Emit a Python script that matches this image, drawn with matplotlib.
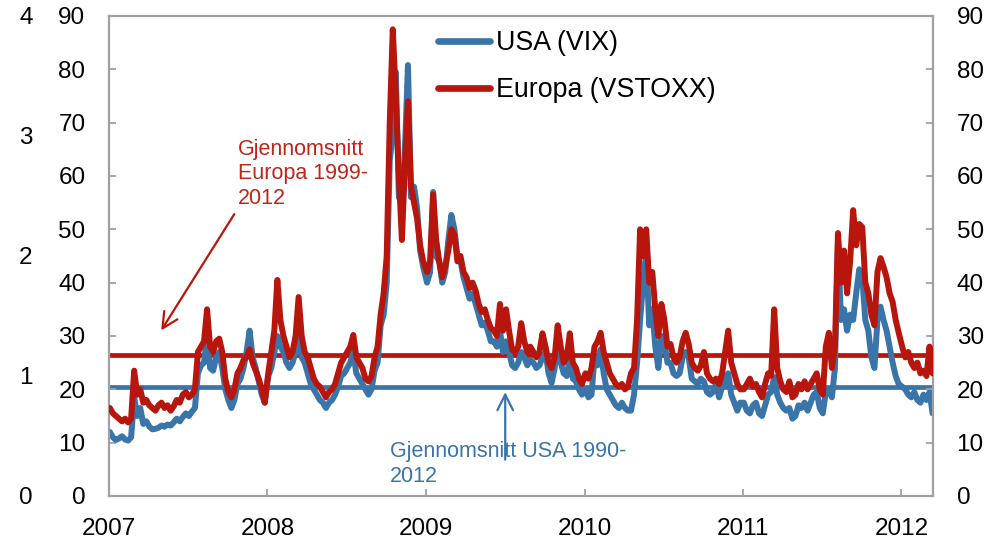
import numpy as np
import pandas as pd
import matplotlib
matplotlib.use("Agg")
import matplotlib.pyplot as plt
import matplotlib.dates as mdates

plt.rcParams['font.family'] = ['Liberation Sans', 'DejaVu Sans']

# ---------------- data (weekly readings from the chart) ----------------
years = [2007, 2008, 2009, 2010, 2011, 2012]

vix_2007 = [12.0, 11.0, 10.5, 10.8, 11.2, 10.6, 10.4, 11.0, 18.5, 15.0,
            16.5, 13.5, 14.0, 13.0, 12.5, 12.6, 12.8, 13.2, 13.0, 13.4,
            13.2, 13.8, 14.5, 14.0, 14.8, 15.5, 15.0, 15.8, 16.5, 23.0,
            24.5, 25.0, 30.0, 24.0, 23.5, 26.0, 27.0, 24.0, 20.0, 18.0,
            16.5, 18.0, 21.0, 22.0, 24.0, 27.0, 31.0, 26.0, 24.0, 21.5,
            19.0, 17.5]
vs_2007 = [16.5, 15.5, 15.0, 14.5, 14.0, 14.5, 13.8, 14.5, 23.5, 19.0,
           20.0, 17.5, 18.0, 17.0, 16.5, 16.0, 17.0, 17.5, 16.5, 17.0,
           16.0, 16.8, 18.0, 17.5, 19.0, 19.5, 18.5, 19.0, 20.0, 27.0,
           28.0, 29.0, 35.0, 28.0, 27.0, 29.0, 29.5, 27.0, 22.0, 19.5,
           18.5, 20.0, 23.0, 24.0, 25.5, 26.0, 27.5, 25.0, 23.5, 22.0,
           20.0, 17.5]

vix_2008 = [22.5, 24.0, 27.0, 30.0, 28.0, 27.0, 25.0, 24.0, 25.0, 27.0,
            32.0, 26.0, 25.0, 23.0, 21.0, 20.0, 19.0, 18.0, 17.5, 16.5,
            17.5, 18.0, 19.0, 20.5, 22.5, 23.0, 24.0, 25.0, 27.0, 23.0,
            22.0, 21.0, 20.0, 19.0, 20.0, 23.5, 25.0, 32.0, 34.0, 40.0,
            63.0, 68.0, 79.5, 56.0, 55.0, 65.0, 80.8, 56.0, 58.0, 54.0,
            46.0, 43.0]
vs_2008 = [23.0, 27.0, 31.0, 40.5, 33.0, 30.0, 28.0, 26.0, 27.0, 30.0,
           37.3, 30.0, 27.0, 26.0, 24.0, 22.0, 21.0, 20.5, 19.5, 18.5,
           19.5, 20.0, 21.0, 23.0, 25.0, 26.0, 27.0, 28.0, 30.2, 26.0,
           25.0, 24.0, 22.0, 21.5, 22.5, 26.0, 28.0, 34.0, 38.0, 45.0,
           70.0, 87.5, 75.0, 60.0, 48.0, 62.0, 74.0, 58.0, 55.0, 52.0,
           47.0, 44.0]

vix_2009 = [40.0, 42.0, 57.0, 45.0, 44.0, 40.0, 42.0, 48.0, 52.7, 50.0,
            45.0, 44.0, 41.0, 39.0, 37.0, 38.0, 36.0, 34.0, 32.0, 32.5,
            31.0, 29.0, 29.0, 28.0, 31.0, 27.0, 29.0, 27.0, 24.5, 24.0,
            25.0, 27.0, 26.0, 24.5, 25.5, 25.0, 24.0, 24.5, 26.0, 27.0,
            23.0, 21.2, 24.0, 29.5, 25.0, 23.0, 22.5, 26.0, 22.0, 21.5,
            20.0, 19.0]
vs_2009 = [42.0, 44.0, 56.5, 48.0, 44.0, 41.0, 43.0, 46.0, 50.0, 49.0,
           44.0, 45.0, 42.0, 41.0, 39.0, 40.0, 38.5, 36.0, 34.5, 35.0,
           33.0, 31.5, 31.0, 30.0, 36.0, 31.0, 35.0, 31.0, 27.4, 27.0,
           28.0, 32.4, 29.0, 27.0, 28.0, 27.0, 26.0, 27.0, 30.5, 28.0,
           25.0, 24.0, 26.0, 32.0, 28.0, 25.0, 26.0, 30.5, 25.0, 24.0,
           22.0, 21.0]

vix_2010 = [20.0, 18.5, 19.0, 26.0, 24.5, 27.5, 23.0, 20.0, 19.0, 18.0,
            17.0, 16.5, 17.5, 16.5, 16.0, 16.0, 19.0, 25.0, 33.0, 40.0,
            45.8, 32.0, 35.0, 28.0, 24.0, 30.0, 29.0, 25.0, 25.0, 23.0,
            22.5, 23.0, 26.0, 27.0, 26.0, 22.0, 21.5, 21.0, 22.0, 21.5,
            19.5, 19.0, 19.5, 21.0, 18.5, 20.5, 21.5, 23.0, 19.0, 17.5,
            16.0, 17.5]
vs_2010 = [23.0, 22.0, 24.0, 28.0, 29.0, 30.6, 27.0, 25.0, 23.0, 22.0,
           21.0, 20.5, 21.0, 20.0, 20.5, 23.0, 24.0, 33.0, 50.0, 45.0,
           50.0, 40.0, 42.0, 35.0, 30.0, 36.0, 33.0, 28.0, 28.5, 26.0,
           25.0, 26.0, 29.0, 30.6, 28.5, 25.0, 24.0, 23.5, 24.5, 27.0,
           23.0, 22.0, 21.5, 22.0, 21.0, 23.0, 27.0, 31.0, 25.0, 23.0,
           21.0, 20.0]

vix_2011 = [17.5, 16.0, 15.5, 17.0, 17.5, 15.5, 15.0, 17.0, 19.0, 19.5,
            22.3, 19.0, 17.5, 16.5, 16.0, 16.5, 14.5, 15.0, 17.0, 16.5,
            17.5, 16.0, 17.5, 19.0, 19.5, 16.5, 15.5, 19.5, 20.0, 18.5,
            24.0, 47.8, 33.0, 35.0, 31.0, 34.0, 33.0, 38.0, 42.5, 41.0,
            33.0, 31.0, 26.0, 24.0, 33.0, 35.5, 33.0, 31.0, 28.0, 25.0,
            22.5, 21.0]
vs_2011 = [20.0, 21.0, 22.0, 20.5, 21.0, 19.5, 18.5, 21.0, 23.0, 22.5,
           35.0, 24.0, 21.5, 20.0, 19.5, 21.5, 18.5, 19.0, 21.0, 20.0,
           21.5, 20.0, 21.0, 22.0, 23.0, 20.0, 19.0, 28.0, 30.6, 24.0,
           28.0, 49.3, 40.0, 46.0, 38.0, 44.0, 53.6, 47.0, 51.0, 50.4,
           40.0, 38.0, 34.0, 32.0, 42.0, 44.6, 43.0, 41.0, 38.0, 36.4,
           33.0, 30.6]

vix_2012 = [20.5, 20.0, 19.0, 18.5, 19.5, 18.0, 17.5, 19.0, 18.0, 19.5, 15.5]
vs_2012 = [28.0, 26.0, 27.0, 25.0, 24.0, 25.0, 23.0, 23.5, 22.5, 28.0, 23.0]

usa_values = [vix_2007, vix_2008, vix_2009, vix_2010, vix_2011, vix_2012]
eur_values = [vs_2007, vs_2008, vs_2009, vs_2010, vs_2011, vs_2012]

avg_europe = 26.5   # Gjennomsnitt Europa 1999-2012
avg_usa = 20.5      # Gjennomsnitt USA 1990-2012

series_labels = ["USA (VIX)", "Europa (VSTOXX)"]
left_ticks = [0, 10, 20, 30, 40, 50, 60, 70, 80, 90]
outer_ticks = [0, 1, 2, 3, 4]

# build weekly dates per year
dates, usa, eur = [], [], []
for y, u, e in zip(years, usa_values, eur_values):
    d = pd.date_range(f"{y}-01-03", periods=len(u), freq="7D")
    dates.extend(d)
    usa.extend(u)
    eur.extend(e)
dates = pd.DatetimeIndex(dates)
usa = np.array(usa)
eur = np.array(eur)

# ---------------- style ----------------
BLUE = "#3A75A9"
RED = "#B8160C"
RED_TXT = "#C0231A"
GRAY = "#A0A0A0"

W, H = 998, 542
fig = plt.figure(figsize=(W / 100, H / 100), dpi=100)
ax = fig.add_axes([109 / W, 1 - 496 / H, (933 - 109) / W, (496 - 16) / H])

ax.axhline(avg_europe, color=RED, lw=3.4, zorder=1)
ax.axhline(avg_usa, color=BLUE, lw=3.4, zorder=1)
l1, = ax.plot(dates, usa, color=BLUE, lw=4.3, solid_joinstyle='round',
              solid_capstyle='round', zorder=2, label=series_labels[0])
l2, = ax.plot(dates, eur, color=RED, lw=4.3, solid_joinstyle='round',
              solid_capstyle='round', zorder=3, label=series_labels[1])

x0 = pd.Timestamp("2007-01-01")
x1 = pd.Timestamp("2012-03-14")
ax.set_xlim(x0, x1)
ax.set_ylim(0, 90)
ax.set_yticks(left_ticks)
ax.xaxis.set_major_locator(mdates.YearLocator())
ax.xaxis.set_major_formatter(mdates.DateFormatter("%Y"))

for s in ax.spines.values():
    s.set_color(GRAY)
    s.set_linewidth(1.6)
ax.tick_params(axis='both', direction='in', length=5, width=1.3, color=GRAY,
               labelsize=17.5, labelcolor='black')
ax.tick_params(axis='y', pad=17)
ax.tick_params(axis='x', pad=16)

# right axis (same scale)
ax2 = ax.twinx()
ax2.set_ylim(0, 90)
ax2.set_yticks(left_ticks)
for s in ax2.spines.values():
    s.set_visible(False)
ax2.tick_params(axis='y', direction='in', length=5, width=1.3, color=GRAY,
                labelsize=17.5, pad=17)

# outer left axis 0-4
ax3 = ax.twinx()
ax3.set_ylim(0, 4)
ax3.set_yticks(outer_ticks)
ax3.yaxis.set_ticks_position('left')
for s in ax3.spines.values():
    s.set_visible(False)
ax3.tick_params(axis='y', length=0, labelsize=17.5, pad=55)

# legend
leg = ax.legend(handles=[l1, l2], loc='upper left',
                bbox_to_anchor=(438 / W, 1 - 30 / H), bbox_transform=fig.transFigure,
                frameon=False, fontsize=19.3, handlelength=1.95, handletextpad=0.2,
                labelspacing=0.78, borderpad=0, borderaxespad=0)
for h in leg.get_lines():
    h.set_linewidth(4.8)

# annotations
def xd(frac_year):
    return mdates.date2num(x0 + pd.Timedelta(days=frac_year * 365.25))

ax.annotate("", xy=(xd(0.32), 30.6), xytext=(xd(0.80), 53.3),
            arrowprops=dict(arrowstyle='->', color=RED, lw=1.6, mutation_scale=28))
ax.text(xd(0.815), 67.0, "Gjennomsnitt\nEuropa 1999-\n2012", color=RED_TXT,
        fontsize=15.5, ha='left', va='top', linespacing=1.22)

ax.annotate("", xy=(xd(2.50), 20.0), xytext=(xd(2.50), 6.3),
            arrowprops=dict(arrowstyle='->', color=BLUE, lw=1.6, mutation_scale=28))
ax.text(xd(1.77), 10.3, "Gjennomsnitt USA 1990-\n2012", color=BLUE,
        fontsize=15.5, ha='left', va='top', linespacing=1.22)

fig.savefig("out.png", dpi=100)
